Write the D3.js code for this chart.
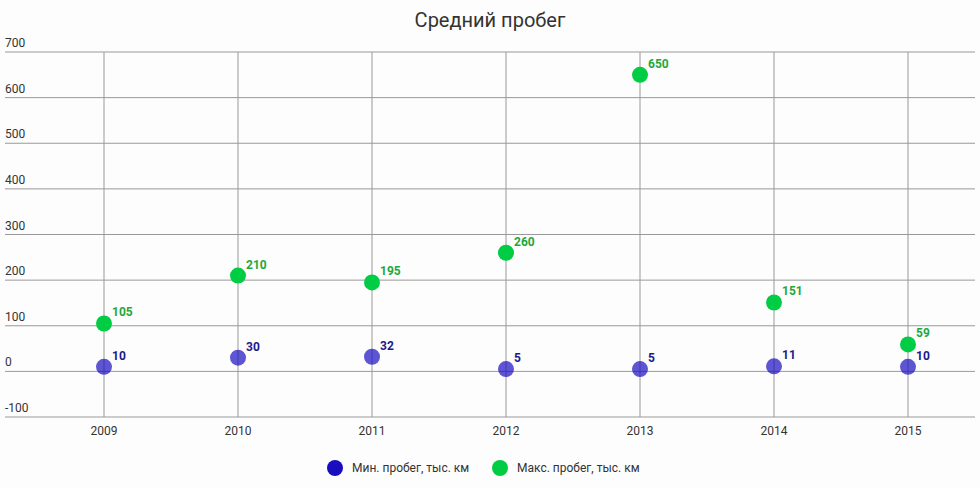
<!DOCTYPE html>
<html><head><meta charset="utf-8">
<script src="https://cdn.jsdelivr.net/npm/d3@7"></script>
<style>body{margin:0;background:#fdfdfd;font-family:Roboto,sans-serif}</style>
</head><body><div id="chart"></div>
<script>
const years = ["2009","2010","2011","2012","2013","2014","2015"];
const minRun = [10, 30, 32, 5, 5, 11, 10];
const maxRun = [105, 210, 195, 260, 650, 151, 59];
const yTicks = [-100, 0, 100, 200, 300, 400, 500, 600, 700];

const width = 980, height = 488;
const svg = d3.select("#chart").append("svg")
    .attr("width", width).attr("height", height);

const x = d3.scaleBand().domain(years).range([37, 975]);
const y = d3.scaleLinear().domain([-100, 700]).range([417, 52]);

// title
svg.append("text").attr("x", 490).attr("y", 27).attr("text-anchor", "middle")
    .attr("font-size", 20).attr("fill", "#333").text("Средний пробег");

// horizontal grid + labels
svg.selectAll(".hg").data(yTicks).enter().append("line")
    .attr("x1", 5).attr("x2", 975)
    .attr("y1", d => y(d)).attr("y2", d => y(d))
    .attr("stroke", "#999").attr("stroke-width", 1);
svg.selectAll(".yl").data(yTicks).enter().append("text")
    .attr("x", 5).attr("y", d => y(d) - 5)
    .attr("font-size", 12).attr("fill", "#333").text(d => d);

// vertical grid
svg.selectAll(".vg").data(years).enter().append("line")
    .attr("x1", d => x(d) + x.bandwidth() / 2).attr("x2", d => x(d) + x.bandwidth() / 2)
    .attr("y1", 52).attr("y2", 417)
    .attr("stroke", "#999").attr("stroke-width", 1);
svg.selectAll(".xl").data(years).enter().append("text")
    .attr("x", d => x(d) + x.bandwidth() / 2).attr("y", 435)
    .attr("text-anchor", "middle").attr("font-size", 12).attr("fill", "#333").text(d => d);

const series = [
    {values: minRun, fill: "#1a0dbf", op: 0.7, label: "#1a1a8a"},
    {values: maxRun, fill: "#00cc44", op: 1, label: "#1fa83a"}
];
series.forEach(s => {
    const g = svg.append("g");
    g.selectAll("circle").data(s.values).enter().append("circle")
        .attr("cx", (d, i) => x(years[i]) + x.bandwidth() / 2)
        .attr("cy", d => y(d)).attr("r", 8)
        .attr("fill", s.fill).attr("fill-opacity", s.op);
    g.selectAll("text").data(s.values).enter().append("text")
        .attr("x", (d, i) => x(years[i]) + x.bandwidth() / 2 + 8)
        .attr("y", d => y(d) - 7)
        .attr("font-size", 12).attr("font-weight", "bold")
        .attr("fill", s.label).text(d => d);
});

// legend
const legend = [
    {name: "Мин. пробег, тыс. км", color: "#1a0dbf", x: 335},
    {name: "Макс. пробег, тыс. км", color: "#00cc44", x: 500}
];
legend.forEach(l => {
    svg.append("circle").attr("cx", l.x).attr("cy", 468).attr("r", 8).attr("fill", l.color);
    svg.append("text").attr("x", l.x + 17).attr("y", 472).attr("font-size", 12)
        .attr("fill", "#333").text(l.name);
});
</script></body></html>
